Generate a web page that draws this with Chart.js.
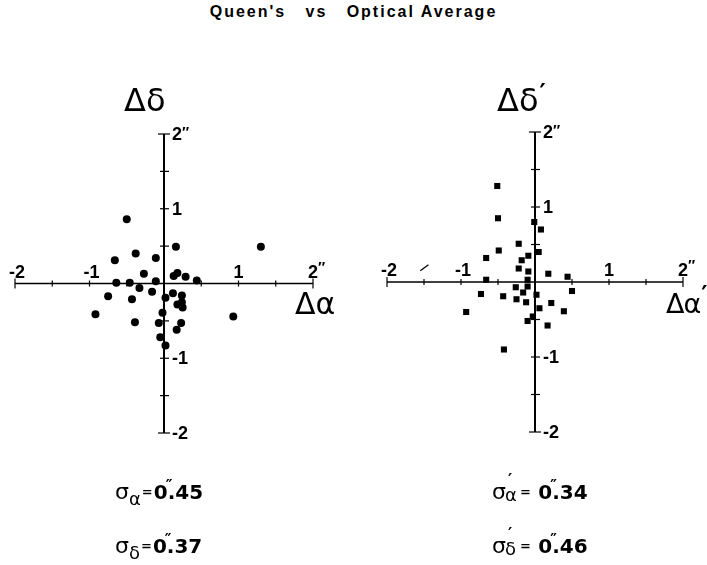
<!DOCTYPE html>
<html>
<head>
<meta charset="utf-8">
<script src="https://cdn.jsdelivr.net/npm/chart.js@4"></script>
<style>
  html, body { margin: 0; padding: 0; background: #fff; }
  #page { position: relative; width: 707px; height: 565px; overflow: hidden; font-family: "DejaVu Sans", sans-serif; color: #000; }
  canvas { position: absolute; top: 0; }
  .title { position: absolute; left: 0; width: 707px; top: 3px; text-align: center; font-family: "Liberation Sans", Arial, sans-serif; font-weight: 700; font-size: 16px; letter-spacing: 2px; white-space: pre; }
  .sym { position: absolute; font-size: 32px; line-height: 1; white-space: nowrap; }
  .sym .pr { font-size: 24px; font-weight: bold; position: relative; top: -10px; margin-left: 1px; }
  .sig { position: absolute; font-size: 20px; line-height: 1; white-space: nowrap; }
  .sig .s { font-size: 22px; }
  .sig .sub { display: inline-block; position: relative; top: 6px; font-size: 18px; }
  .sig .stk { display: inline-block; position: relative; width: 13px; height: 10px; }
  .sig .stk .p { position: absolute; left: 2px; top: -17px; font-size: 16px; font-weight: bold; }
  .sig .stk .b { position: absolute; left: -1px; top: -3px; font-size: 18px; }
  .sig .v { font-weight: bold; }
  .sig .eq { font-size: 13px; font-weight: bold; position: relative; top: -3px; margin: 0 1px; }
  .sig .sec { display: inline-block; width: 0; position: relative; top: -8px; left: -2px; font-size: 15px; }
</style>
</head>
<body>
<div id="page">
  <div class="title">Queen's   vs   Optical Average</div>

  <canvas id="left" width="350" height="565" style="left:0;width:350px;height:565px"></canvas>
  <canvas id="right" width="337" height="565" style="left:370px;width:337px;height:565px"></canvas>

  <div class="sym" style="left:124px;top:84px">Δδ</div>
  <div class="sym" style="left:295px;top:289px;font-size:30px">Δα</div>
  <div class="sym" style="left:497px;top:84px">Δδ<span class="pr">′</span></div>
  <div class="sym" style="left:666px;top:290px;font-size:27px;letter-spacing:-1px">Δα<span class="pr">′</span></div>

  <div class="sig" style="left:115px;top:481px"><span class="s">σ</span><span class="sub">α</span><span class="eq">=</span><span class="v">0<span class="sec">″</span>.45</span></div>
  <div class="sig" style="left:115px;top:535px"><span class="s">σ</span><span class="sub">δ</span><span class="eq">=</span><span class="v">0<span class="sec">″</span>.37</span></div>
  <div class="sig" style="left:492px;top:481px"><span class="s">σ</span><span class="stk"><span class="p">′</span><span class="b">α</span></span><span class="eq">=</span> <span class="v">0<span class="sec">″</span>.34</span></div>
  <div class="sig" style="left:492px;top:535px"><span class="s">σ</span><span class="stk"><span class="p">′</span><span class="b">δ</span></span><span class="eq">=</span> <span class="v">0<span class="sec">″</span>.46</span></div>
</div>

<script>
/* offsets in arcsec */
const queensDA = [-0.50, 0.16, 1.30, -0.66, -0.38, -0.11, -0.27, 0.13, 0.18, 0.29, 0.44,
  -0.64, -0.46, -0.11, -0.33, -0.16, -0.75, -0.43, 0.02, 0.12, 0.24, 0.18, 0.25, 0.24,
  -0.92, -0.02, 0.93, -0.39, -0.07, 0.23, 0.17, -0.05, 0.02];
const queensDD = [0.86, 0.49, 0.49, 0.31, 0.40, 0.34, 0.13, 0.10, 0.14, 0.09, 0.04,
  0.01, 0.01, 0.03, -0.06, -0.11, -0.17, -0.21, -0.19, -0.13, -0.16, -0.28, -0.32, -0.25,
  -0.41, -0.39, -0.44, -0.52, -0.53, -0.53, -0.62, -0.72, -0.83];

const primeDA = [-0.51, -0.50, -0.01, 0.08, -0.22, -0.49, -0.66, -0.09, 0.05, -0.18, -0.22,
  -0.09, 0.18, 0.44, -0.66, -0.10, -0.26, -0.10, -0.16, -0.73, -0.43, -0.25, -0.12, 0.02,
  0.50, 0.22, 0.06, 0.39, -0.93, -0.03, -0.10, 0.17, -0.42];
const primeDD = [1.28, 0.85, 0.80, 0.70, 0.51, 0.42, 0.32, 0.35, 0.40, 0.29, 0.18,
  0.14, 0.11, 0.07, 0.03, 0.03, -0.07, -0.06, -0.14, -0.16, -0.19, -0.23, -0.27, -0.17,
  -0.12, -0.28, -0.35, -0.39, -0.40, -0.46, -0.52, -0.58, -0.90];

const tickVals = [-2, -1.5, -1, -0.5, 0.5, 1, 1.5, 2];
const labelVals = [-2, -1, 1, 2];
const tickLabels = ["-2", "-1", "1", "2"];

const toPts = (xs, ys) => xs.map((v, i) => ({ x: v, y: ys[i] }));
const LBL = "bold 18px sans-serif";
const SEC = "bold 15px sans-serif";

/* axes crossing at the origin, ticks every half arcsec */
const crossAxes = {
  id: "crossAxes",
  beforeDatasetsDraw(chart, args, opts) {
    const { ctx, scales: { x, y } } = chart;
    const ox = x.getPixelForValue(0), oy = y.getPixelForValue(0);
    const line = (a, b, c, d) => { ctx.beginPath(); ctx.moveTo(a, b); ctx.lineTo(c, d); ctx.stroke(); };
    ctx.save();
    ctx.strokeStyle = "#000";
    ctx.lineWidth = 1.5;
    line(x.getPixelForValue(-2), oy, x.getPixelForValue(2), oy);
    ctx.lineWidth = 2;
    line(ox, y.getPixelForValue(2), ox, y.getPixelForValue(-2));
    ctx.lineWidth = 1.2;
    tickVals.forEach((v) => {
      const end = Math.abs(v) === 2;
      const px = x.getPixelForValue(v), py = y.getPixelForValue(v);
      line(px, oy - (end ? 5 : 3), px, oy + (end ? 5 : 3));
      line(ox - (end ? 6 : 4), py, ox + (end ? 6 : 5), py);
    });
    // stray pen mark in the right panel
    if (opts.stroke) {
      ctx.lineWidth = 1.3;
      line(x.getPixelForValue(opts.stroke[0]), y.getPixelForValue(opts.stroke[1]),
           x.getPixelForValue(opts.stroke[2]), y.getPixelForValue(opts.stroke[3]));
    }
    ctx.fillStyle = "#000";
    labelVals.forEach((v, i) => {
      const txt = tickLabels[i];
      const px = x.getPixelForValue(v), py = y.getPixelForValue(v);
      ctx.font = LBL;
      const w = ctx.measureText(txt).width;
      // x labels sit above the axis
      ctx.textBaseline = "alphabetic";
      ctx.textAlign = "left";
      ctx.fillText(txt, px - w / 2 + (txt[0] === "-" ? 2 : 0), oy - 6);
      // y labels to the right of the axis
      ctx.textBaseline = "middle";
      ctx.fillText(txt, ox + 8, py + 1);
      if (v === 2) {
        ctx.font = SEC;
        ctx.textBaseline = "alphabetic";
        ctx.fillText("″", px + w / 2, oy - 12);
        ctx.fillText("″", ox + 8 + w, py + 3);
      }
    });
    ctx.restore();
  },
};

function makePanel(id, pts, style, radius, pad, stroke) {
  return new Chart(document.getElementById(id), {
    type: "scatter",
    data: {
      datasets: [{
        data: pts, pointStyle: style, pointRadius: radius, pointHoverRadius: radius,
        backgroundColor: "#000", borderColor: "#000", borderWidth: 0,
      }],
    },
    options: {
      responsive: false, animation: false, events: [],
      layout: { padding: pad },
      scales: {
        x: { type: "linear", min: -2, max: 2, display: false },
        y: { type: "linear", min: -2, max: 2, display: false },
      },
      plugins: { legend: { display: false }, tooltip: { enabled: false }, crossAxes: { stroke } },
    },
    plugins: [crossAxes],
  });
}

makePanel("left", toPts(queensDA, queensDD), "circle", 4, { left: 15, right: 37, top: 134, bottom: 132 }, null);
makePanel("right", toPts(primeDA, primeDD), "rect", 4.3, { left: 17, right: 24, top: 132, bottom: 133 }, [-1.55, 0.15, -1.44, 0.23]);
</script>
</body>
</html>
